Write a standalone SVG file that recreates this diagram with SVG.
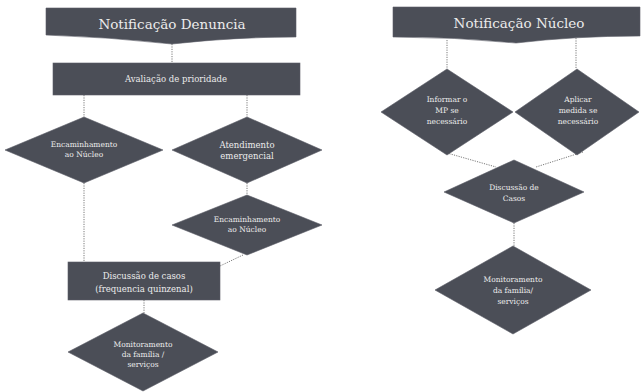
<svg xmlns="http://www.w3.org/2000/svg" width="641" height="392" viewBox="0 0 641 392">
<style>
.n{fill:#4b4e57;stroke:#5a5d66;stroke-width:0.6}
.t{font-family:'DejaVu Serif','Liberation Serif',serif;fill:#ececec;text-anchor:middle}
.big{font-size:13.5px}
.box{font-size:8.5px}
.d{font-size:7.5px}
.e{font-size:8.5px}
.c{fill:none;stroke:#7a7a7a;stroke-width:1;stroke-dasharray:1.2 1.2}
</style>
<rect width="641" height="392" fill="#ffffff"/>
<g id="connectors">
<path class="c" d="M172,44 V63"/>
<path class="c" d="M84,95 V117"/>
<path class="c" d="M247,95 V117"/>
<path class="c" d="M247,183 V195"/>
<path class="c" d="M84,183 V262"/>
<path class="c" d="M243,255 L220,266"/>
<path class="c" d="M144,300 V313"/>
<path class="c" d="M447,40 V69"/>
<path class="c" d="M576,38 V69"/>
<path class="c" d="M447,153 L496,167"/>
<path class="c" d="M583,152 L536,167"/>
<path class="c" d="M514,223 V246"/>
</g>
<g id="notificacao-denuncia">
<path class="n" d="M46,8 H296 V37 Q234,37 172,44 Q109,37 46,35 Z"/>
<text class="t big" x="172" y="29">Notificação Denuncia</text>
</g>
<g id="avaliacao-prioridade">
<rect class="n" x="53" y="63" width="247" height="32"/>
<text class="t box" x="176" y="82">Avaliação de prioridade</text>
</g>
<g id="encaminhamento-1">
<polygon class="n" points="84,117 163,150 84,183 5,150"/>
<text class="t d" x="84" y="147">Encaminhamento</text>
<text class="t d" x="84" y="157">ao Núcleo</text>
</g>
<g id="atendimento-emergencial">
<polygon class="n" points="247,117 322,150 247,183 172,150"/>
<text class="t e" x="247" y="148">Atendimento</text>
<text class="t e" x="247" y="159">emergencial</text>
</g>
<g id="encaminhamento-2">
<polygon class="n" points="247,195 322,225 247,255 172,225"/>
<text class="t d" x="247" y="222">Encaminhamento</text>
<text class="t d" x="247" y="232">ao Núcleo</text>
</g>
<g id="discussao-casos-1">
<rect class="n" x="68" y="262" width="152" height="38"/>
<text class="t box" x="144" y="279">Discussão de casos</text>
<text class="t box" x="144" y="292">(frequencia quinzenal)</text>
</g>
<g id="monitoramento-1">
<polygon class="n" points="143,313 218,352 143,391 68,352"/>
<text class="t d" x="143" y="347">Monitoramento</text>
<text class="t d" x="143" y="357">da família /</text>
<text class="t d" x="143" y="367">serviços</text>
</g>
<g id="notificacao-nucleo">
<path class="n" d="M393,7 H640 V36 Q575,36 516,43 Q455,37 393,37 Z"/>
<text class="t big" x="519" y="28">Notificação Núcleo</text>
</g>
<g id="informar-mp">
<polygon class="n" points="447,69 513,112 447,155 381,112"/>
<text class="t d" x="447" y="102">Informar o</text>
<text class="t d" x="447" y="113">MP se</text>
<text class="t d" x="447" y="124">necessário</text>
</g>
<g id="aplicar-medida">
<polygon class="n" points="577,69 639,112 577,155 515,112"/>
<text class="t d" x="578" y="102">Aplicar</text>
<text class="t d" x="578" y="113">medida se</text>
<text class="t d" x="578" y="124">necessário</text>
</g>
<g id="discussao-casos-2">
<polygon class="n" points="514,160 584,192 514,223 444,192"/>
<text class="t d" x="514" y="190">Discussão de</text>
<text class="t d" x="514" y="201">Casos</text>
</g>
<g id="monitoramento-2">
<polygon class="n" points="513,246 591,290 513,334 435,290"/>
<text class="t d" x="513" y="282">Monitoramento</text>
<text class="t d" x="513" y="293">da família/</text>
<text class="t d" x="513" y="304">serviços</text>
</g>
</svg>
